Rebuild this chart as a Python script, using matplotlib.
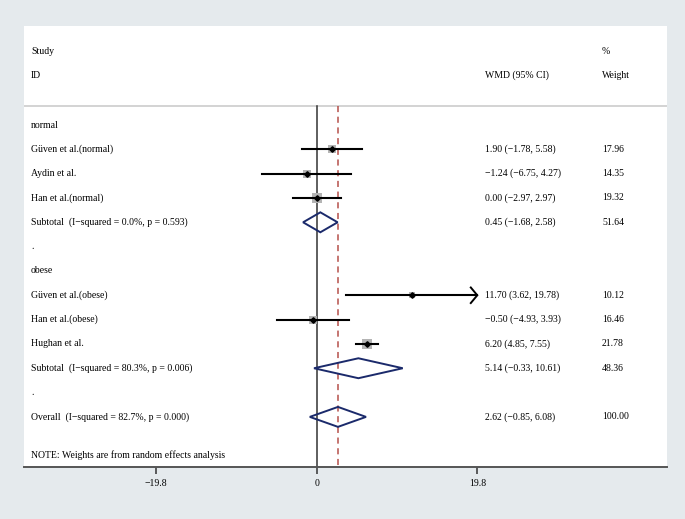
import numpy as np
import matplotlib
matplotlib.use('Agg')
import matplotlib.pyplot as plt
from matplotlib.patches import Polygon

plt.rcParams['font.family'] = ['Liberation Serif', 'DejaVu Serif']

# datos del forest plot
groups = ['normal', 'obese']
studies = [['Güven et al.(normal)', 'Aydin et al.', 'Han et al.(normal)'],
           ['Güven et al.(obese)', 'Han et al.(obese)', 'Hughan et al.']]
est = [[1.90, -1.24, 0.00], [11.70, -0.50, 6.20]]
lo = [[-1.78, -6.75, -2.97], [3.62, -4.93, 4.85]]
hi = [[5.58, 4.27, 2.97], [19.78, 3.93, 7.55]]
wt = [[17.96, 14.35, 19.32], [10.12, 16.46, 21.78]]

sub_labels = ['Subtotal  (I\u2212squared = 0.0%, p = 0.593)',
              'Subtotal  (I\u2212squared = 80.3%, p = 0.006)']
sub_est = [0.45, 5.14]
sub_lo = [-1.68, -0.33]
sub_hi = [2.58, 10.61]
sub_wt = [51.64, 48.36]

overall_label = 'Overall  (I\u2212squared = 82.7%, p = 0.000)'
overall = [2.62, -0.85, 6.08]
overall_wt = 100.00

xticks = [-19.8, 0, 19.8]
xmax = 19.8

bg = '#e5eaed'
navy = '#1b2a6b'
fs = 7


def fmt(v):
    return ('%.2f' % v).replace('-', '\u2212')


def ci_text(e, l, h):
    return '%s (%s, %s)' % (fmt(e), fmt(l), fmt(h))


fig = plt.figure(figsize=(6.85, 5.19), dpi=100)
fig.patch.set_facecolor(bg)
W, H = 685., 519.
ax = fig.add_axes([23.5 / W, (H - 467) / H, (667 - 23.5) / W, (467 - 26) / H])
ax.set_facecolor('white')

px = 8.11  # pixeles por unidad
ax.set_xlim((23.5 - 316.7) / px, (667 - 316.7) / px)
ax.set_ylim(14.06, -4.07)

col_id = (31 - 316.7) / px
col_ci = (485 - 316.7) / px
col_w = (602 - 316.7) / px

# encabezados
ax.text(col_id, -3.04, 'Study', fontsize=fs, va='center')
ax.text(col_id, -2.05, 'ID', fontsize=fs, va='center')
ax.text(col_ci, -2.05, 'WMD (95% CI)', fontsize=fs, va='center')
ax.text(col_w, -3.04, '%', fontsize=fs, va='center')
ax.text(col_w, -2.05, 'Weight', fontsize=fs, va='center')
ax.axhline(-0.78, color='#cccccc', lw=1.2)

# lineas verticales
ax.plot([0, 0], [-0.78, 14.06], color='#333333', lw=1.1, zorder=2)
ax.plot([overall[0]] * 2, [-0.78, 14.06], color='#b5504a', lw=1.1,
        dashes=(4, 3), zorder=2)


def diamond(y, e, l, h):
    pts = [[l, y], [e, y - 0.41], [h, y], [e, y + 0.41]]
    ax.add_patch(Polygon(pts, closed=True, facecolor='none', edgecolor=navy,
                         lw=1.4, zorder=4))


row = 0
for g in range(len(groups)):
    ax.text(col_id, row, groups[g], fontsize=fs, va='center')
    row += 1
    for i in range(len(studies[g])):
        e, l, h, w = est[g][i], lo[g][i], hi[g][i], wt[g][i]
        ax.scatter(e, row, marker='s', s=w * 2.3, color='#b4b4b4',
                   linewidths=0, zorder=3)
        ax.plot([l, min(h, xmax)], [row, row], color='black', lw=1.5, zorder=4)
        if h >= xmax - 0.1:
            ax.plot([xmax - 0.8, xmax, xmax - 0.8], [row - 0.32, row, row + 0.32],
                    color='black', lw=1.4, zorder=4, solid_joinstyle='miter')
        ax.plot(e, row, marker='D', ms=2.8, color='black', zorder=5)
        ax.text(col_id, row, studies[g][i], fontsize=fs, va='center')
        ax.text(col_ci, row, ci_text(e, l, h), fontsize=fs, va='center')
        ax.text(col_w, row, '%.2f' % w, fontsize=fs, va='center')
        row += 1
    diamond(row, sub_est[g], sub_lo[g], sub_hi[g])
    ax.text(col_id, row, sub_labels[g], fontsize=fs, va='center')
    ax.text(col_ci, row, ci_text(sub_est[g], sub_lo[g], sub_hi[g]), fontsize=fs, va='center')
    ax.text(col_w, row, '%.2f' % sub_wt[g], fontsize=fs, va='center')
    row += 1
    ax.text(col_id, row, '.', fontsize=fs, va='center')
    row += 1

diamond(row, *overall)
ax.text(col_id, row, overall_label, fontsize=fs, va='center')
ax.text(col_ci, row, ci_text(*overall), fontsize=fs, va='center')
ax.text(col_w, row, '%.2f' % overall_wt, fontsize=fs, va='center')

ax.text(col_id, 13.56, 'NOTE: Weights are from random effects analysis',
        fontsize=fs, va='center')

# eje inferior
for s in ['top', 'left', 'right']:
    ax.spines[s].set_visible(False)
ax.spines['bottom'].set_color('#555555')
ax.spines['bottom'].set_linewidth(1.4)
ax.set_yticks([])
ax.set_xticks(xticks)
ax.set_xticklabels([('%g' % t).replace('-', '\u2212') for t in xticks], fontsize=fs)
ax.tick_params(axis='x', direction='out', length=5, width=1.1, color='#333333', pad=4)

plt.savefig('out.png', dpi=100, facecolor=fig.get_facecolor())
